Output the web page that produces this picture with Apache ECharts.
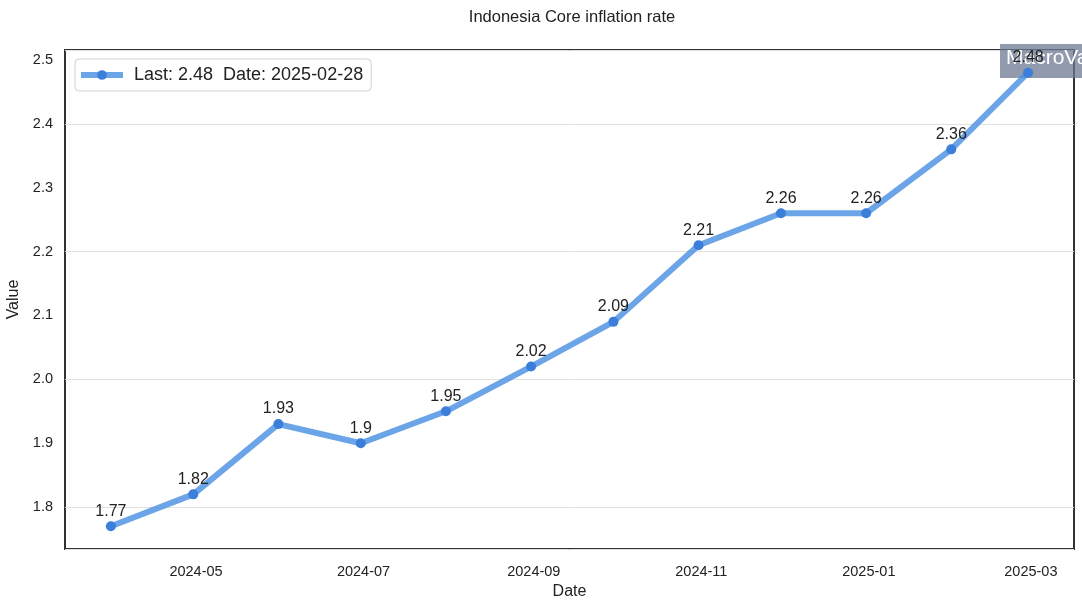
<!DOCTYPE html>
<html>
<head>
<meta charset="utf-8">
<script src="https://cdn.jsdelivr.net/npm/echarts@6/dist/echarts.min.js"></script>
<style>html,body{margin:0;padding:0;background:#fff}#c{width:1082px;height:608px}</style>
</head>
<body>
<div id="c"></div>
<script>
const dates = ['2024-03-31','2024-04-30','2024-05-31','2024-06-30','2024-07-31','2024-08-31','2024-09-30','2024-10-31','2024-11-30','2024-12-31','2025-01-31','2025-02-28'];
const values = [1.77,1.82,1.93,1.9,1.95,2.02,2.09,2.21,2.26,2.26,2.36,2.48];
const xTicks = ['2024-05-01','2024-07-01','2024-09-01','2024-11-01','2025-01-01','2025-03-01'];
const yTicks = [1.8,1.9,2.0,2.1,2.2,2.3,2.4,2.5];

const ts = d => Date.parse(d + 'T00:00:00Z');
const fmtMonth = v => { const d = new Date(v); return d.getUTCFullYear() + '-' + String(d.getUTCMonth()+1).padStart(2,'0'); };
const span = ts(dates[dates.length-1]) - ts(dates[0]);
const xMin = ts(dates[0]) - span*0.05;
const xMax = ts(dates[dates.length-1]) + span*0.05;
const vMin = Math.min(...values), vMax = Math.max(...values);
const yMin = vMin - (vMax-vMin)*0.05, yMax = vMax + (vMax-vMin)*0.05;

const chart = echarts.init(document.getElementById('c'), null, {renderer:'canvas'});
const font = '"Liberation Sans", Arial, sans-serif';
chart.setOption({
  animation: false,
  backgroundColor: '#fff',
  title: {
    text: 'Indonesia Core inflation rate',
    left: 567, top: 4, textAlign: 'center',
    textStyle: {fontFamily: font, fontSize: 16.5, fontWeight: 'normal', color: '#222'}
  },
  grid: {left: 65, right: 8, top: 50, bottom: 59, show: true, borderColor: '#333', borderWidth: 2, containLabel: false, outerBoundsMode: 'none'},
  legend: {
    left: 75, top: 59, padding: [7, 8, 7, 3],
    backgroundColor: '#fff', borderColor: '#d0d0d0', borderWidth: 1, borderRadius: 4,
    itemWidth: 42, itemHeight: 12, itemGap: 8,
    lineStyle: {width: 6, color: 'rgba(74,144,226,0.82)'},
    textStyle: {fontFamily: font, fontSize: 18, color: '#222', padding: [0,0,0,6]},
    data: [{name: 'Last: 2.48  Date: 2025-02-28'}]
  },
  xAxis: {
    type: 'value', min: xMin, max: xMax,
    name: 'Date', nameLocation: 'middle', nameGap: 33,
    nameTextStyle: {fontFamily: font, fontSize: 16, color: '#222'},
    axisLine: {show: false}, axisTick: {show: false}, splitLine: {show: false},
    axisLabel: {
      customValues: xTicks.map(ts),
      formatter: v => fmtMonth(v),
      fontFamily: font, fontSize: 14.5, color: '#222', margin: 15, hideOverlap: false
    }
  },
  yAxis: {
    type: 'value', min: yMin, max: yMax,
    name: 'Value', nameLocation: 'middle', nameGap: 39, nameRotate: 90,
    nameTextStyle: {fontFamily: font, fontSize: 16, color: '#222'},
    axisLine: {show: false}, axisTick: {show: false},
    splitLine: {show: true, lineStyle: {color: '#e0e0e0', width: 1}},
    axisLabel: {
      customValues: yTicks,
      formatter: v => v.toFixed(1),
      fontFamily: font, fontSize: 14.5, color: '#222', margin: 12
    }
  },
  graphic: [
    {type: 'rect', left: 1000, top: 44, z: 1, shape: {width: 110, height: 34}, style: {fill: 'rgba(110,122,145,0.75)'}},
    {type: 'text', left: 1006, top: 48, z: 2, style: {text: 'MacroVar', fill: '#fff', font: '21px ' + font}}
  ],
  series: [{
    name: 'Last: 2.48  Date: 2025-02-28',
    type: 'line',
    data: dates.map((d,i) => [ts(d), values[i]]),
    symbol: 'circle', symbolSize: 10,
    lineStyle: {color: 'rgba(74,144,226,0.82)', width: 6},
    itemStyle: {color: '#3b7fdb'},
    label: {
      show: true, position: 'top', distance: 2,
      formatter: p => String(p.value[1]),
      fontFamily: font, fontSize: 16, color: '#222'
    },
    z: 5
  }]
});
</script>
</body>
</html>
